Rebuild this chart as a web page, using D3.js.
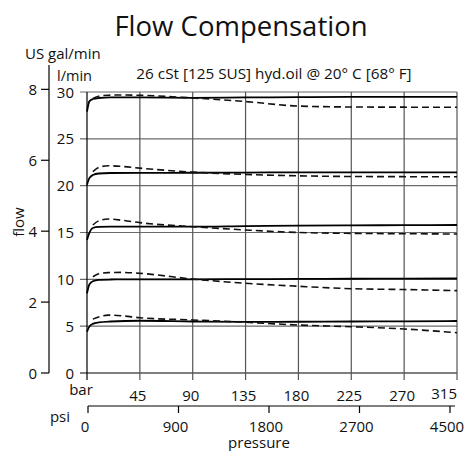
<!DOCTYPE html>
<html>
<head>
<meta charset="utf-8">
<script src="https://cdn.jsdelivr.net/npm/d3@7"></script>
<style>
  body { margin: 0; background: #fff; }
  svg text { font-family: "Open Sans", "DejaVu Sans", sans-serif; fill: #111; }
</style>
</head>
<body>
<div class="canvas1"></div>
<script>
// tick labels
const barTicks = [0, 45, 90, 135, 180, 225, 270, 315];
const lpmTicks = [0, 5, 10, 15, 20, 25, 30];
const galTicks = [0, 2, 4, 6, 8];
const psiTicks = ["0", "900", "1800", "2700", "4500"];

// solid curves (bar -> l/min)
const pSolid  = [0, 2, 5, 10, 20, 45, 90, 135, 180, 225, 270, 315];
const solid5  = [4.4, 4.95, 5.25, 5.4, 5.5, 5.58, 5.5, 5.45, 5.47, 5.5, 5.52, 5.55];
const solid10 = [8.5, 9.45, 9.8, 9.95, 9.98, 10.0, 10.0, 10.02, 10.04, 10.06, 10.08, 10.09];
const solid15 = [14.2, 14.95, 15.48, 15.59, 15.62, 15.62, 15.62, 15.68, 15.73, 15.76, 15.78, 15.8];
const solid20 = [20.1, 20.8, 21.14, 21.3, 21.35, 21.37, 21.38, 21.4, 21.42, 21.42, 21.42, 21.42];
const solid30 = [27.9, 29.0, 29.25, 29.36, 29.42, 29.42, 29.38, 29.42, 29.45, 29.47, 29.47, 29.47];

// dashed curves
const pDash  = [5, 10, 18, 30, 45, 90, 135, 180, 225, 270, 315];
const dash5  = [5.75, 5.98, 6.18, 6.1, 5.9, 5.66, 5.42, 5.12, 4.94, 4.7, 4.3];
const dash10 = [10.28, 10.6, 10.72, 10.74, 10.64, 10.03, 9.58, 9.26, 9.0, 8.91, 8.79];
const dash15 = [15.8, 16.25, 16.44, 16.3, 16.05, 15.62, 15.27, 15.0, 14.91, 14.87, 14.84];
const dash20 = [21.5, 21.95, 22.13, 22.05, 21.87, 21.45, 21.2, 21.05, 20.98, 20.96, 20.95];
const dash30 = [29.3, 29.55, 29.66, 29.68, 29.65, 29.36, 28.98, 28.5, 28.4, 28.38, 28.37];

const W = 465, H = 451;
const svg = d3.select(".canvas1").append("svg")
    .attr("width", W)
    .attr("height", H);

// scales
const x = d3.scaleLinear().domain([0, 315]).range([87, 457]);
const y = d3.scaleLinear().domain([0, 30]).range([373, 92]);
const gal = d3.scaleLinear().domain([0, 8 * 3.78541]).range([373, y(8 * 3.78541)]);
const psi = d3.scalePoint().domain(psiTicks).range([88, 450]);

// title + subtitle
svg.append("text")
    .attr("x", 241).attr("y", 36)
    .attr("text-anchor", "middle")
    .style("font-size", "27.5px")
    .text("Flow Compensation");
svg.append("text")
    .attr("x", 274).attr("y", 79)
    .attr("text-anchor", "middle")
    .style("font-size", "15.3px")
    .text("26 cSt [125 SUS] hyd.oil @ 20° C [68° F]");

// horizontal grid (l/min)
svg.append("g").selectAll("line")
  .data(lpmTicks).join("line")
    .attr("x1", 80).attr("x2", x(315))
    .attr("y1", d => y(d)).attr("y2", d => y(d))
    .attr("stroke", d => d === 0 ? "#000" : "#6a6a6a")
    .attr("stroke-width", 1.2);

// vertical grid (bar)
svg.append("g").selectAll("line")
  .data(barTicks).join("line")
    .attr("x1", d => x(d)).attr("x2", d => x(d))
    .attr("y1", y(30)).attr("y2", y(0) + 7)
    .attr("stroke", d => d === 0 ? "#000" : "#555")
    .attr("stroke-width", 1.2);

// l/min labels
svg.append("g").selectAll("text")
  .data(lpmTicks).join("text")
    .attr("x", 74).attr("y", d => y(d) + 5.5)
    .attr("text-anchor", "end")
    .style("font-size", "15px")
    .text(d => d);

// US gal/min axis
const galAxis = svg.append("g").attr("transform", "translate(49,0)");
galAxis.append("line")
    .attr("x1", 0).attr("x2", 0)
    .attr("y1", 65).attr("y2", 373)
    .attr("stroke", "#000").attr("stroke-width", 1.2);
galAxis.selectAll(".tk").data(galTicks).join("line")
    .attr("x1", -8).attr("x2", 0)
    .attr("y1", d => gal(d * 3.78541)).attr("y2", d => gal(d * 3.78541))
    .attr("stroke", "#000").attr("stroke-width", 1.2);
galAxis.selectAll("text").data(galTicks).join("text")
    .attr("x", -12).attr("y", d => gal(d * 3.78541) + 5.5)
    .attr("text-anchor", "end")
    .style("font-size", "15px")
    .text(d => d);

svg.append("text").attr("x", 25).attr("y", 59)
    .style("font-size", "15px").text("US gal/min");
svg.append("text").attr("x", 57).attr("y", 81)
    .style("font-size", "14.5px").text("l/min");
svg.append("text")
    .attr("transform", "translate(24,222) rotate(-90)")
    .attr("text-anchor", "middle")
    .style("font-size", "15px")
    .text("flow");

// bar labels
svg.append("text").attr("x", 81).attr("y", 395)
    .attr("text-anchor", "middle")
    .style("font-size", "15px").text("bar");
svg.append("g").selectAll("text")
  .data(barTicks.slice(1)).join("text")
    .attr("x", d => d === 315 ? x(d) : x(d) - 2)
    .attr("y", d => d === 315 ? 399 : 401)
    .attr("text-anchor", d => d === 315 ? "end" : "middle")
    .style("font-size", "15px")
    .text(d => d);

// psi axis
const psiAxis = svg.append("g").attr("transform", "translate(0,406)");
psiAxis.append("line")
    .attr("x1", 88).attr("x2", 455)
    .attr("stroke", "#000").attr("stroke-width", 1.2);
psiAxis.selectAll(".tk").data(psiTicks).join("line")
    .attr("x1", d => psi(d)).attr("x2", d => psi(d))
    .attr("y1", 0).attr("y2", 7)
    .attr("stroke", "#000").attr("stroke-width", 1.2);
psiAxis.selectAll("text").data(psiTicks).join("text")
    .attr("x", d => psi(d) - 3).attr("y", 26)
    .attr("text-anchor", "middle")
    .style("font-size", "15px")
    .text(d => d);
svg.append("text").attr("x", 60).attr("y", 422)
    .attr("text-anchor", "middle")
    .style("font-size", "15px").text("psi");
svg.append("text").attr("x", 259).attr("y", 448)
    .attr("text-anchor", "middle")
    .style("font-size", "15px").text("pressure");

// curves
const line = d3.line()
    .curve(d3.curveMonotoneX)
    .x(d => x(d[0]))
    .y(d => y(d[1]));

const solids = [solid5, solid10, solid15, solid20, solid30];
const dashes = [dash5, dash10, dash15, dash20, dash30];

svg.append("g").selectAll("path")
  .data(solids).join("path")
    .attr("d", s => line(pSolid.map((p, i) => [p, s[i]])))
    .attr("fill", "none")
    .attr("stroke", "#000")
    .attr("stroke-width", 1.8);

svg.append("g").selectAll("path")
  .data(dashes).join("path")
    .attr("d", s => line(pDash.map((p, i) => [p, s[i]])))
    .attr("fill", "none")
    .attr("stroke", "#111")
    .attr("stroke-width", 1.6)
    .attr("stroke-dasharray", "7,4");
</script>
</body>
</html>
